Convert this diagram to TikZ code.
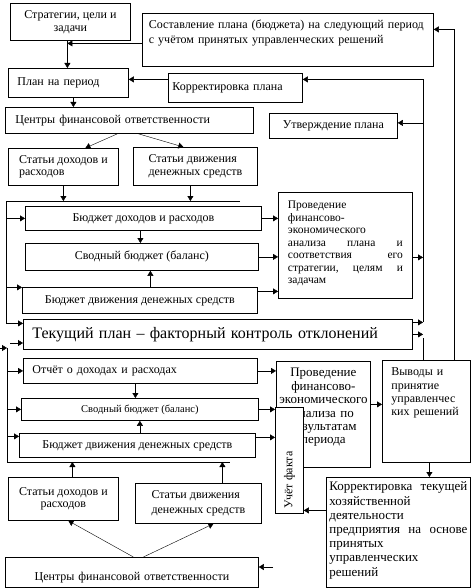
\documentclass[tikz,border=0pt]{standalone}
\usepackage{fontspec}
\usepackage{graphicx}
\setmainfont{Liberation Serif}
\usetikzlibrary{arrows.meta}
\tikzset{
    %Define standard arrow tip
    >={Triangle[length=5pt,width=6pt]},
    x=1pt, y=1pt,
    line width=0.7pt,
    blok/.style={
      rectangle,
      draw=black, line width=0.8pt,
      anchor=north west,
      inner sep=0pt,
      fill=white,
      font=\fontsize{12}{13}\selectfont},
    kurs/.style={
      blok,
      text width=#1,
      align=left}
}
\begin{document}
\begin{tikzpicture}
    \useasboundingbox (0,0) rectangle (472,-588);
    % upper half: plan
    \node (strat) [blok, minimum width=120pt, minimum height=37pt, align=center] at (10,-3)
          {Стратегии, цели и\\задачи};
    \node (sost) [kurs=278pt, minimum width=291pt, text height=15.5pt, text depth=37.5pt,
                  font=\fontsize{12}{15}\selectfont] at (142,-13)
          {Составление плана (бюджета) на следующий период\\с учётом принятых управленческих решений};
    \node (plan) [kurs=102pt, minimum width=120pt, minimum height=29pt] at (8,-68)
          {План на период};
    \node (korr) [kurs=126pt, minimum width=134pt, minimum height=29pt] at (168,-73)
          {Корректировка плана};
    \node (ctop) [kurs=228pt, minimum width=248pt, minimum height=26pt] at (5,-107)
          {Центры финансовой ответственности};
    \node (utv) [blok, minimum width=128pt, minimum height=25pt] at (269,-113)
          {Утверждение плана};
    \node (stat1) [blok, minimum width=110pt, minimum height=37pt, align=left,
                   font=\fontsize{12}{12}\selectfont] at (8,-148)
          {Статьи доходов и\\расходов};
    \node (stat2) [blok, minimum width=124pt, minimum height=38pt, align=left,
                   font=\fontsize{12}{12.5}\selectfont] at (133,-147)
          {Статьи движения\\денежных средств};
    \node (bdr) [blok, minimum width=236pt, minimum height=24pt] at (25,-206)
          {Бюджет доходов и расходов};
    \node (svod1) [blok, minimum width=233pt, minimum height=27pt] at (25,-243)
          {Сводный бюджет (баланс)};
    \node (bdds1) [blok, minimum width=235pt, minimum height=26pt] at (22,-287)
          {Бюджет движения денежных средств};
    \node (anal1) [kurs=115pt, minimum width=134pt, text height=16.5pt, text depth=89.5pt,
                   font=\fontsize{11.5}{12.5}\selectfont] at (278,-192)
          {Проведение\\финансово-\\экономического\\анализа\hfill плана\hfill и\\
           соответствия\hfill его\\стратегии,\hfill целям\hfill и\\задачам};
    % lower half: fact
    \node (tek) [kurs=371pt, minimum width=389pt, minimum height=30pt,
                 font=\fontsize{16}{18}\selectfont] at (23,-319)
          {Текущий план – факторный контроль отклонений};
    \node (otch) [kurs=216pt, minimum width=234pt, minimum height=25pt] at (23,-358)
          {Отчёт о доходах и расходах};
    \node (svod2) [blok, minimum width=237pt, minimum height=22pt,
                   font=\fontsize{10.5}{12}\selectfont] at (21,-398)
          {Сводный бюджет (баланс)};
    \node (bdds2) [blok, minimum width=236pt, minimum height=24pt] at (19,-433)
          {Бюджет движения денежных средств};
    \node (anal2) [blok, minimum width=94pt, text width=90pt, align=center,
                   text height=15.5pt, text depth=90.5pt,
                   font=\fontsize{13}{13.4}\selectfont] at (276,-361)
          {Проведение\\финансово-\\экономического\\анализа по\\результатам\\периода};
    \node (uchet) [blok, minimum width=28pt, text height=101.5pt, text depth=4.5pt] at (275,-407)
          {\rotatebox{90}{Учёт факта}};
    \node (vyv) [kurs=70pt, minimum width=88pt, text height=15.5pt, text depth=86.5pt,
                 font=\fontsize{12}{13.3}\selectfont] at (382,-360)
          {Выводы и\\принятие\\управленчес\\ких решений};
    \node (korr2) [kurs=138pt, minimum width=144pt, text height=13.5pt, text depth=96.5pt,
                   font=\fontsize{13}{14.2}\selectfont] at (326,-477)
          {Корректировка\hfill текущей\\хозяйственной\\деятельности\\
           предприятия\hfill на\hfill основе\\принятых\\управленческих\\решений};
    \node (stat1b) [blok, minimum width=110pt, minimum height=43pt, align=center,
                    font=\fontsize{12}{12}\selectfont] at (8,-477)
          {Статьи доходов и\\расходов};
    \node (stat2b) [blok, minimum width=126pt, minimum height=40pt, align=left,
                    font=\fontsize{12}{15}\selectfont] at (135,-483)
          {Статьи движения\\денежных средств};
    \node (cbot) [blok, minimum width=253pt, text width=210pt, align=center,
                  text height=23.5pt, text depth=6.5pt] at (5,-557)
          {Центры финансовой ответственности};
    % free ends of the lines
    \coordinate (s1) at ([xshift=-3pt]strat.south);
    \coordinate (busA) at (6,-201);
    \coordinate (busAe) at (240,-201);
    \coordinate (t1) at (10,-343);
    \coordinate (busBs) at (0,-348);
    \coordinate (busB) at (7,-348);
    \coordinate (busBe) at (230,-462);
    \coordinate (rA) at (423,-322);
    \coordinate (rB) at (423,-338);
    \coordinate (stub) at (273,-567);
    % plan
    \draw[->] (s1) -- (s1 |- plan.north);
    \draw[->] ([yshift=-3.5pt]sost.west) -- ([yshift=-3.5pt]sost.west -| s1);
    \draw[->] ([yshift=8.5pt]korr.west) -- ([yshift=8.5pt]korr.west -| plan.east);
    \draw[->] ([xshift=5pt]plan.south) -- ([xshift=5pt]plan.south |- ctop.north);
    \draw[->] ([xshift=-12pt]ctop.south) -- ([xshift=22pt]stat1.north);
    \draw[->] ([xshift=9pt]ctop.south) -- ([xshift=-12pt]stat2.north);
    \draw[->] (stat1.south) -- (stat1.south |- busA);
    \draw[->] ([xshift=-5pt]stat2.south) -- ([xshift=-5pt]stat2.south |- busA);
    \draw[->] (busAe) -- (busA) |- ([yshift=11pt]tek.west);
    \draw[->] (bdr.west -| busA) -- (bdr.west);
    \draw[->] ([yshift=13pt]bdds1.west -| busA) -- ([yshift=13pt]bdds1.west);
    \draw[->] ([xshift=-3pt]bdr.south) -- ([xshift=-3pt]bdr.south |- svod1.north);
    \draw[->] ([xshift=8.5pt]svod1.south |- bdds1.north) -- ([xshift=8.5pt]svod1.south);
    \draw[->] (bdr.east) -- (bdr.east -| anal1.west);
    \draw[->] (svod1.east) -- (svod1.east -| anal1.west);
    \draw[->] ([yshift=9pt]bdds1.east) -- ([yshift=9pt]bdds1.east -| anal1.west);
    \draw[->] ([yshift=-12pt]anal1.east) -- ([yshift=-12pt]anal1.east -| rA);
    \draw[->] (rA) |- ([yshift=8.5pt]korr.east);
    \draw[->] ([yshift=3pt]utv.east -| rA) -- ([yshift=3pt]utv.east);
    \draw[->] ([yshift=12pt]tek.east) -- ([yshift=12pt]tek.east -| rA);
    \draw[->] (tek.east) -- (tek.east -| rB);
    \draw (rB) -- (rB |- vyv.north);
    \draw[->] ([xshift=28pt]vyv.north) |- ([yshift=10.5pt]sost.east);
    % fact
    \draw[->] (t1) -- (t1 -| tek.west);
    \draw[->] (busBs) -- (busB);
    \draw (busB) |- (busBe);
    \draw[->] (otch.west -| busB) -- (otch.west);
    \draw[->] (svod2.west -| busB) -- (svod2.west);
    \draw[->] ([yshift=9pt]bdds2.west -| busB) -- ([yshift=9pt]bdds2.west);
    \draw[->] ([xshift=-5pt]otch.south) -- ([xshift=-5pt]otch.south |- svod2.north);
    \draw[->] (bdds2.north -| svod2.south) -- (svod2.south);
    \draw[->] (otch.east) -- (otch.east -| anal2.west);
    \draw[->] (svod2.east) -- (svod2.east -| uchet.west);
    \draw[->] ([yshift=8pt]bdds2.east) -- ([yshift=8pt]bdds2.east -| uchet.west);
    \draw[->] ([yshift=10pt]anal2.east) -- ([yshift=10pt]anal2.east -| vyv.west);
    \draw[->] ([xshift=3pt]vyv.south) -- ([xshift=3pt]vyv.south |- korr2.north);
    \draw[->] ([yshift=22pt]korr2.west) -- ([yshift=22pt]korr2.west -| uchet.east);
    \draw[->] (stub) -- (stub -| cbot.east);
    \draw[->] ([xshift=9pt]stat1b.north) -- ([xshift=9pt]stat1b.north |- busBe);
    \draw[->] ([xshift=24pt]stat2b.north) -- ([xshift=24pt]stat2b.north |- busBe);
    \draw[->] ([xshift=1.5pt]cbot.north) -- ([xshift=5pt]stat1b.south);
    \draw[->] ([xshift=11.5pt]cbot.north) -- ([xshift=15pt]stat2b.south);
\end{tikzpicture}
\end{document}
